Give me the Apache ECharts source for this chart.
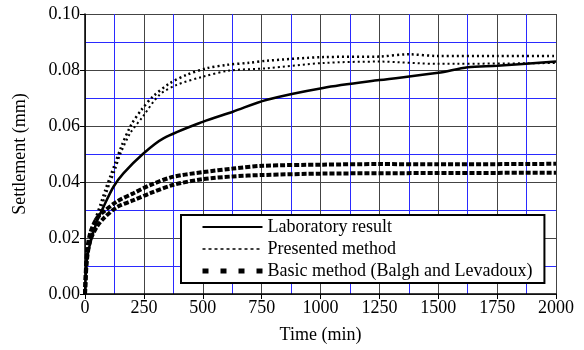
<!DOCTYPE html>
<html>
<head>
<meta charset="utf-8">
<script src="https://cdn.jsdelivr.net/npm/echarts@6/dist/echarts.min.js"></script>
<style>
html,body{margin:0;padding:0;background:#fff;}
#c{width:584px;height:350px;}
</style>
</head>
<body>
<div id="c"></div>
<script>
// Time (min) and settlement (mm)
const labTime = [0, 8, 22, 50, 79, 121, 163, 248, 333, 500, 628, 769, 1011, 1250, 1500, 1625, 1750, 2000];
const labVal  = [0, 0.0121, 0.0181, 0.0258, 0.0312, 0.0383, 0.0431, 0.0502, 0.0556, 0.0615, 0.0651, 0.0693, 0.0736, 0.0764, 0.079, 0.081, 0.0815, 0.083];

const presUpTime = [0, 1, 8, 22, 43, 65, 86, 107, 128, 154, 196, 239, 288, 359, 430, 515, 600, 698, 769, 1011, 1250, 1375, 1500, 1750, 2000];
const presUpVal  = [0, 0.0026, 0.0133, 0.0193, 0.0264, 0.0318, 0.0371, 0.0419, 0.0467, 0.0526, 0.0604, 0.0657, 0.0705, 0.0752, 0.0782, 0.0806, 0.0818, 0.0826, 0.0833, 0.0846, 0.0848, 0.0856, 0.085, 0.085, 0.085];

const presLoTime = [0, 8, 22, 43, 65, 86, 107, 128, 150, 192, 245, 316, 387, 500, 613, 769, 1011, 1250, 1500, 2000];
const presLoVal  = [0, 0.012, 0.018, 0.025, 0.030, 0.035, 0.040, 0.0445, 0.050, 0.0574, 0.0633, 0.0711, 0.0746, 0.0776, 0.0798, 0.0806, 0.0825, 0.083, 0.0822, 0.0825];

const basicUpTime = [0, 8, 22, 50, 79, 135, 206, 277, 376, 500, 628, 756, 1011, 1250, 1500, 2000];
const basicUpVal  = [0, 0.0146, 0.0217, 0.027, 0.0294, 0.033, 0.036, 0.0389, 0.0419, 0.0435, 0.0448, 0.0458, 0.0462, 0.0464, 0.0463, 0.0465];

const basicLoTime = [0, 8, 22, 50, 79, 135, 206, 277, 376, 500, 628, 756, 1011, 1500, 2000];
const basicLoVal  = [0, 0.012, 0.019, 0.024, 0.027, 0.031, 0.0335, 0.036, 0.039, 0.041, 0.042, 0.0425, 0.043, 0.0432, 0.0433];

const xTicks = [0, 250, 500, 750, 1000, 1250, 1500, 1750, 2000];
const yTicks = [0, 0.02, 0.04, 0.06, 0.08, 0.10];

const legendNames = ['Laboratory result', 'Presented method', 'Basic method (Balgh and Levadoux)'];

function pairs(t, v) { return t.map((x, i) => [x, v[i]]); }

const font = 'Liberation Serif';
const fs = 18;
const blk = {color: '#000'};
const lineBase = {type: 'line', symbol: 'none', smooth: 0.3, itemStyle: blk, z: 3};
const chart = echarts.init(document.getElementById('c'), null, {renderer: 'canvas'});
chart.setOption({
  animation: false,
  backgroundColor: '#fff',
  textStyle: {fontFamily: font, color: '#000'},
  grid: {left: 85, right: 28, top: 14, bottom: 56},
  xAxis: {
    type: 'value', min: xTicks[0], max: xTicks[xTicks.length - 1], interval: 250,
    name: 'Time (min)', nameLocation: 'middle', nameGap: 32,
    nameTextStyle: {fontFamily: font, fontSize: fs, color: '#000'},
    axisLine: {show: true, onZero: false, lineStyle: {color: '#000', width: 1.5}},
    axisTick: {show: true, length: 5, lineStyle: {color: '#000'}},
    axisLabel: {fontFamily: font, fontSize: fs, color: '#000', margin: 5,
      formatter: v => String(v)},
    splitLine: {show: true, lineStyle: {color: '#444', width: 1}},
    minorTick: {show: false, splitNumber: 2},
    minorSplitLine: {show: true, lineStyle: {color: '#2a2aff', width: 1}}
  },
  yAxis: {
    type: 'value', min: yTicks[0], max: yTicks[yTicks.length - 1], interval: 0.02,
    name: 'Settlement (mm)', nameLocation: 'middle', nameGap: 56,
    nameTextStyle: {fontFamily: font, fontSize: fs, color: '#000'},
    axisLine: {show: true, onZero: false, lineStyle: {color: '#000', width: 1.5}},
    axisTick: {show: true, length: 5, lineStyle: {color: '#000'}},
    axisLabel: {fontFamily: font, fontSize: fs, color: '#000', margin: 5,
      formatter: v => v.toFixed(2)},
    splitLine: {show: true, lineStyle: {color: '#444', width: 1}},
    minorTick: {show: false, splitNumber: 2},
    minorSplitLine: {show: true, lineStyle: {color: '#2a2aff', width: 1}}
  },
  legend: {
    data: [
      {name: legendNames[0], lineStyle: {color: '#000', width: 2, type: 'solid'}},
      {name: legendNames[1], lineStyle: {color: '#000', width: 1.5, type: [3, 3]}},
      {name: legendNames[2], lineStyle: {color: '#000', width: 5, type: [6, 12]}}
    ],
    orient: 'vertical', left: 181, top: 215,
    padding: [3, 12, 3, 19],
    itemGap: 4, itemWidth: 60, itemHeight: 16,
    itemStyle: {opacity: 0},
    backgroundColor: '#fff', borderColor: '#000', borderWidth: 2, borderRadius: 0,
    textStyle: {fontFamily: font, fontSize: fs, color: '#000'}
  },
  series: [
    Object.assign({name: legendNames[0], data: pairs(labTime, labVal),
     lineStyle: {color: '#000', width: 2.5, type: 'solid'}}, lineBase),
    Object.assign({name: legendNames[1], data: pairs(presUpTime, presUpVal),
     lineStyle: {color: '#000', width: 2.5, type: [2, 3]}}, lineBase),
    Object.assign({name: 'presLo', data: pairs(presLoTime, presLoVal),
     lineStyle: {color: '#000', width: 2, type: [2, 3]}}, lineBase),
    Object.assign({name: legendNames[2], data: pairs(basicUpTime, basicUpVal),
     lineStyle: {color: '#000', width: 4, type: [5, 2]}}, lineBase),
    Object.assign({name: 'basicLo', data: pairs(basicLoTime, basicLoVal),
     lineStyle: {color: '#000', width: 4, type: [5, 2]}}, lineBase)
  ]
});
</script>
</body>
</html>
